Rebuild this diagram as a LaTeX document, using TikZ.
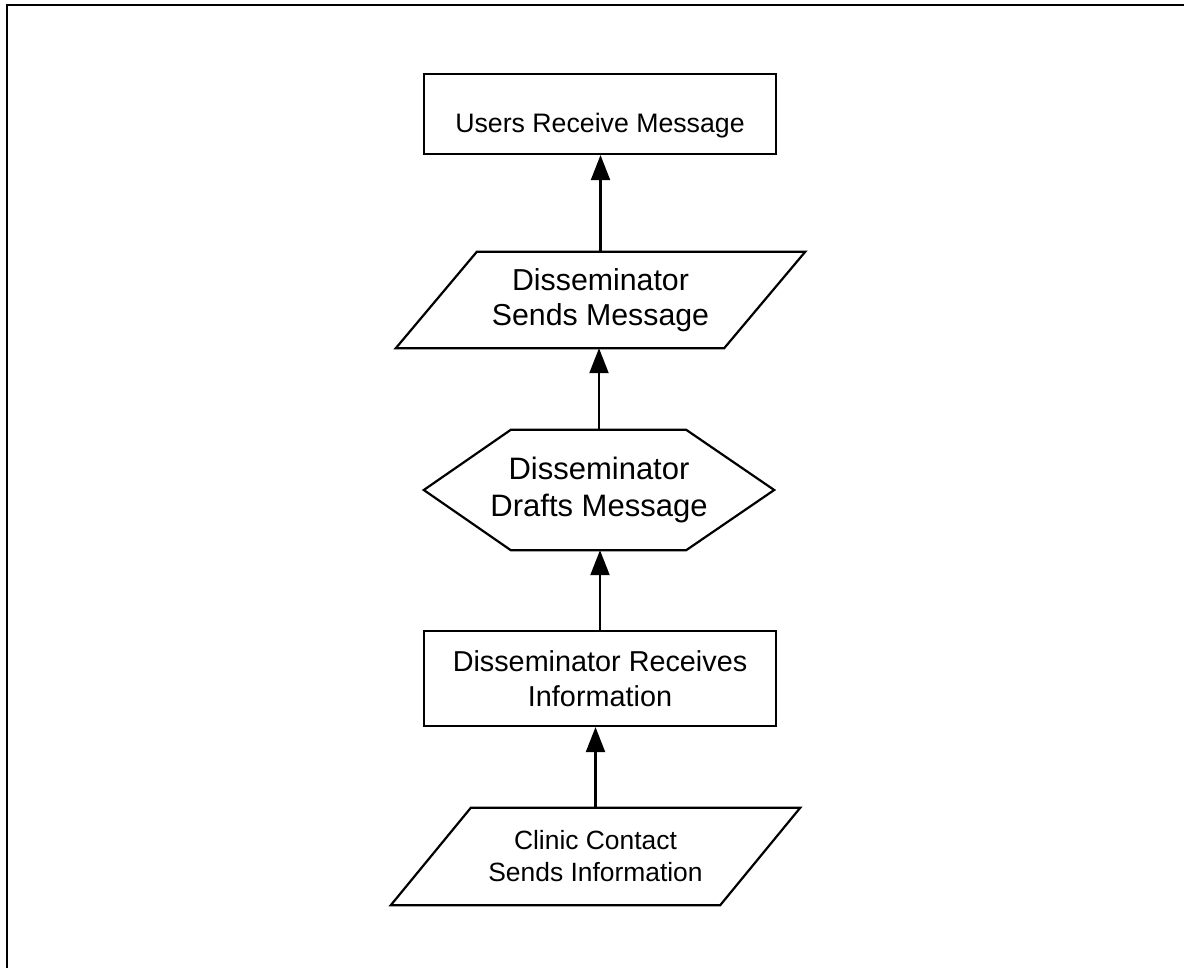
\documentclass[tikz,border=0pt]{standalone}
\usepackage{fontspec}
\setmainfont{Liberation Sans}
\usepackage{tikz}
\usetikzlibrary{arrows.meta,positioning}
\tikzset{
every node/.style={inner sep=0pt, align=center},
step box/.style={draw, line width=2.2pt, minimum width=352pt},
flow/.style={line width=2.2pt, -{Triangle[length=25pt,width=19pt]}}, % upward arrows between the steps
}

\begin{document}
\begin{tikzpicture}[x=1pt, y=-1pt, line join=miter]
    \useasboundingbox (0,0) rectangle (1184,968);
    % frame round the figure
    \draw [line width=2.4pt] (7,968) -- (7,5) -- (1184,5);

    % the five steps, bottom to top
    \node [minimum width=329pt, minimum height=97pt, font=\fontsize{26.4}{32}\selectfont] (clinic) at (595.5,856.5) {Clinic Contact\\Sends Information};
    \node [step box, minimum height=95pt, font=\fontsize{28.8}{35}\selectfont] (receives) at (600,678.5) {Disseminator Receives\\Information};
    \node [minimum width=350pt, minimum height=120pt, font=\fontsize{31}{37}\selectfont] (drafts) at (599,490) {Disseminator\\Drafts Message};
    \node [minimum width=328pt, minimum height=96pt, font=\fontsize{30.3}{35}\selectfont] (sends) at (600.5,300) {Disseminator\\Sends Message};
    \node [step box, minimum height=80pt, font=\fontsize{26.7}{32}\selectfont] (users) at (600,114) {\raisebox{-9pt}[\height][0pt]{Users Receive Message}};

    % outlines of the slanted and six-sided steps
    \draw [line width=2.2pt] ([xshift=40pt]clinic.north west) -- ([xshift=40pt]clinic.north east)
        -- ([xshift=-40pt]clinic.south east) -- ([xshift=-40pt]clinic.south west) -- cycle;
    \draw [line width=2.2pt] ([xshift=87pt]drafts.north west) -- ([xshift=-88pt]drafts.north east)
        -- (drafts.east) -- ([xshift=-88pt]drafts.south east) -- ([xshift=87pt]drafts.south west)
        -- (drafts.west) -- cycle;
    \draw [line width=2.2pt] ([xshift=40.5pt]sends.north west) -- ([xshift=40.5pt]sends.north east)
        -- ([xshift=-40.5pt]sends.south east) -- ([xshift=-40.5pt]sends.south west) -- cycle;

    % arrows
    \draw [flow] (clinic.north) -- (clinic.north |- receives.south);
    \draw [flow] (receives.north) -- (receives.north |- drafts.south);
    \draw [flow] (drafts.north) -- (drafts.north |- sends.south);
    \draw [flow] (sends.north) -- (sends.north |- users.south);
\end{tikzpicture}
\end{document}
